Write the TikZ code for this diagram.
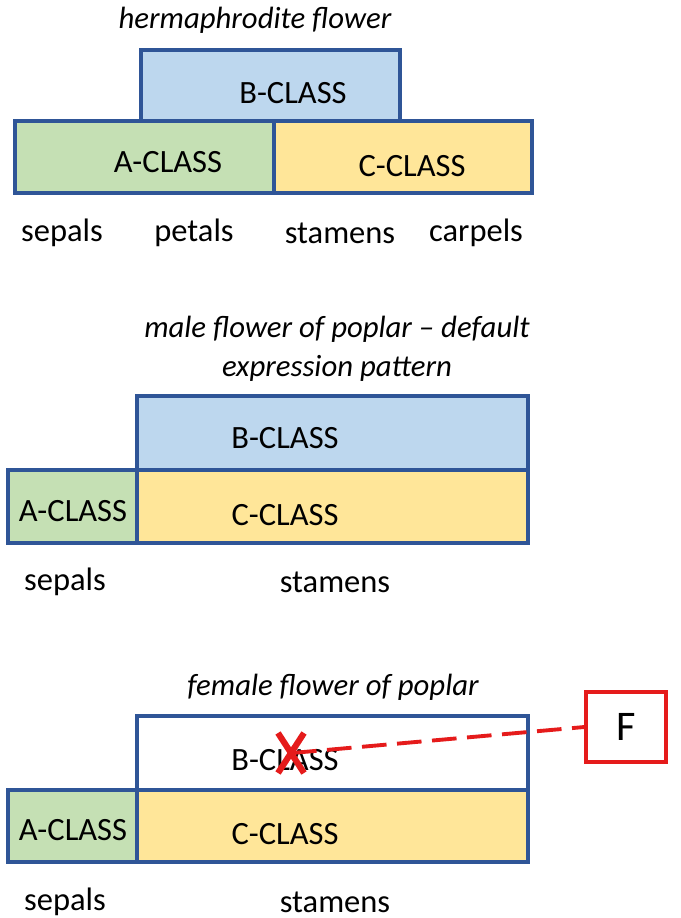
\documentclass[tikz,border=0pt]{standalone}
\usepackage{fontspec}
\setmainfont{Carlito}
\begin{document}
\begin{tikzpicture}[x=0.02cm,y=-0.02cm,
 bx/.style={draw=bord,line width=1.8pt},
 lab/.style={font=\fontsize{18.5}{20}\selectfont},
 ttl/.style={font=\fontsize{17.5}{22}\selectfont\itshape,align=center}]
\definecolor{bord}{HTML}{2F5597}
\definecolor{cb}{HTML}{BDD7EE}
\definecolor{cg}{HTML}{C5E0B4}
\definecolor{cy}{HTML}{FFE699}
\definecolor{rd}{HTML}{E51B1B}
\useasboundingbox (0,0) rectangle (680,918);
% top
\node[ttl] (t1) at (255,20) {hermaphrodite flower};
\draw[bx,fill=cb] (141,50) rectangle (400,121);
\draw[bx,fill=cg] (15,121) rectangle (274,193);
\draw[bx,fill=cy] (274,121) rectangle (532,193);
\node[lab] (b1) at (293,93) {B-CLASS};
\node[lab] (a1) at (168,162) {A-CLASS};
\node[lab] (c1) at (412,166) {C-CLASS};
\node[lab] (s1) at (62,233) {sepals};
\node[lab] (p1) at (194,233) {petals};
\node[lab] (st1) at (340,233) {stamens};
\node[lab] (ca1) at (476,233) {carpels};
% middle
\node[ttl] (t2) at (337,349) {male flower of poplar -- default\\expression pattern};
\draw[bx,fill=cb] (137,396) rectangle (528,470);
\draw[bx,fill=cg] (8,470) rectangle (137,543);
\draw[bx,fill=cy] (137,470) rectangle (528,543);
\node[lab] (b2) at (285,438) {B-CLASS};
\node[lab] (a2) at (73,511) {A-CLASS};
\node[lab] (c2) at (285,515) {C-CLASS};
\node[lab] (s2) at (65,582) {sepals};
\node[lab] (st2) at (335,582) {stamens};
% bottom
\node[ttl] (t3) at (333,687) {female flower of poplar};
\draw[bx,fill=white] (137,716) rectangle (528,790);
\draw[bx,fill=cg] (8,790) rectangle (137,862);
\draw[bx,fill=cy] (137,790) rectangle (528,862);
\node[lab] (b3) at (285,760) {B-CLASS};
\node[lab] (a3) at (73,830) {A-CLASS};
\node[lab] (c3) at (285,834) {C-CLASS};
\node[lab] (s3) at (65,902) {sepals};
\node[lab] (st3) at (335,902) {stamens};
\node[draw=rd,fill=white,line width=1.8pt,minimum width=1.6cm,minimum height=1.4cm,font=\fontsize{24}{26}\selectfont] (F) at (626,727) {F};
\coordinate (X) at (292,753);
\draw[rd,line width=3.5pt] (278,733) -- (304,773) (304,733) -- (278,773);
\draw[rd,line width=2.2pt,dash pattern=on 14pt off 6pt] (X) -- (F.west);
\end{tikzpicture}
\end{document}
